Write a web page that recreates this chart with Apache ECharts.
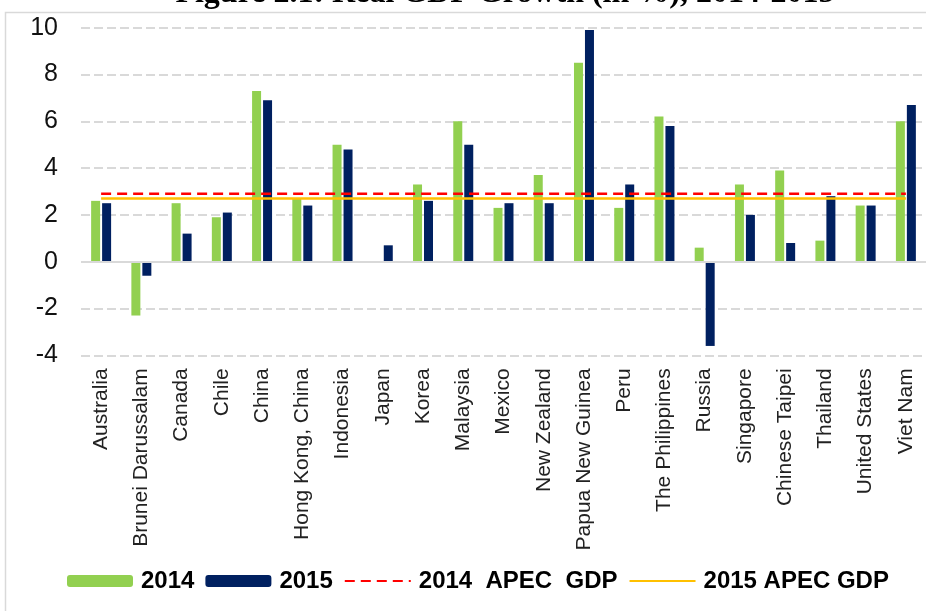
<!DOCTYPE html>
<html>
<head>
<meta charset="utf-8">
<script src="https://cdn.jsdelivr.net/npm/echarts@6/dist/echarts.min.js"></script>
<style>
  html, body { margin: 0; padding: 0; background: #fff; }
  #chart { width: 926px; height: 611px; }
</style>
</head>
<body>
<div id="chart"></div>
<script>
const economies = ['Australia', 'Brunei Darussalam', 'Canada', 'Chile', 'China', 'Hong Kong, China',
  'Indonesia', 'Japan', 'Korea', 'Malaysia', 'Mexico', 'New Zealand', 'Papua New Guinea', 'Peru',
  'The Philippines', 'Russia', 'Singapore', 'Chinese Taipei', 'Thailand', 'United States', 'Viet Nam']
const growth2014 = [2.6, -2.3, 2.5, 1.9, 7.3, 2.7, 5.0, 0.0, 3.3, 6.0, 2.3, 3.7, 8.5, 2.3, 6.2, 0.6, 3.3, 3.9, 0.9, 2.4, 6.0]
const growth2015 = [2.5, -0.6, 1.2, 2.1, 6.9, 2.4, 4.8, 0.7, 2.6, 5.0, 2.5, 2.5, 9.9, 3.3, 5.8, -3.6, 2.0, 0.8, 2.8, 2.4, 6.7]
const apec2014 = 2.9
const apec2015 = 2.7
const yTicks = { min: -4, max: 10, interval: 2 }

const textFont = 'Liberation Sans, Arial, sans-serif'
const gridGray = '#d9d9d9'

const chart = echarts.init(document.getElementById('chart'))
chart.setOption({
  backgroundColor: '#fff',
  animation: false,
  graphic: [
    {
      type: 'rect',
      shape: { x: 5.5, y: 12.5, width: 1000, height: 700 },
      style: { fill: 'none', stroke: gridGray, lineWidth: 1.5 },
      silent: true
    },
    {
      type: 'text',
      x: 505,
      y: -6,
      style: {
        text: 'Figure 2.1: Real GDP Growth (in %), 2014-2015',
        font: 'bold 32px "Liberation Serif", "Times New Roman", serif',
        fill: '#000',
        align: 'center',
        verticalAlign: 'middle'
      },
      silent: true
    }
  ],
  grid: { left: 81, right: -2, top: 27.7, bottom: 255.7, containLabel: false },
  legend: {
    left: 67,
    top: 569,
    padding: 0,
    itemWidth: 66,
    itemHeight: 12,
    itemGap: 11,
    textStyle: { fontFamily: textFont, fontSize: 24, fontWeight: 'bold', color: '#000', padding: [0, 0, 0, 3] },
    data: [
      '2014',
      '2015',
      { name: '2014  APEC  GDP', itemStyle: { opacity: 0 } },
      { name: '2015 APEC GDP', itemStyle: { opacity: 0 } }
    ]
  },
  xAxis: {
    type: 'category',
    data: economies,
    axisLine: { show: false, onZero: false },
    axisTick: { show: false },
    axisLabel: {
      rotate: 90,
      interval: 0,
      margin: 13,
      fontFamily: textFont,
      fontSize: 21,
      color: '#222'
    }
  },
  yAxis: {
    type: 'value',
    min: yTicks.min,
    max: yTicks.max,
    interval: yTicks.interval,
    axisLine: { show: false },
    axisTick: { show: false },
    axisLabel: { margin: 23, fontFamily: textFont, fontSize: 25, color: '#111' },
    splitLine: { lineStyle: { color: gridGray, width: 2, type: [9, 4] } }
  },
  series: [
    {
      name: '2014',
      type: 'bar',
      data: growth2014,
      barWidth: 9,
      barGap: '22%',
      itemStyle: { color: '#92D050' },
      markLine: {
        silent: true,
        symbol: 'none',
        label: { show: false },
        lineStyle: { color: gridGray, width: 2, type: 'solid' },
        data: [{ yAxis: 0 }]
      }
    },
    {
      name: '2015',
      type: 'bar',
      data: growth2015,
      barWidth: 9,
      itemStyle: { color: '#002060' }
    },
    {
      name: '2014  APEC  GDP',
      type: 'line',
      data: economies.map(() => apec2014),
      symbol: 'none',
      lineStyle: { color: '#FF0000', width: 2.5, type: [10, 6] },
      itemStyle: { color: '#FF0000' },
      z: 3
    },
    {
      name: '2015 APEC GDP',
      type: 'line',
      data: economies.map(() => apec2015),
      symbol: 'none',
      lineStyle: { color: '#FFC000', width: 2.5 },
      itemStyle: { color: '#FFC000' },
      z: 3
    }
  ]
})
</script>
</body>
</html>
